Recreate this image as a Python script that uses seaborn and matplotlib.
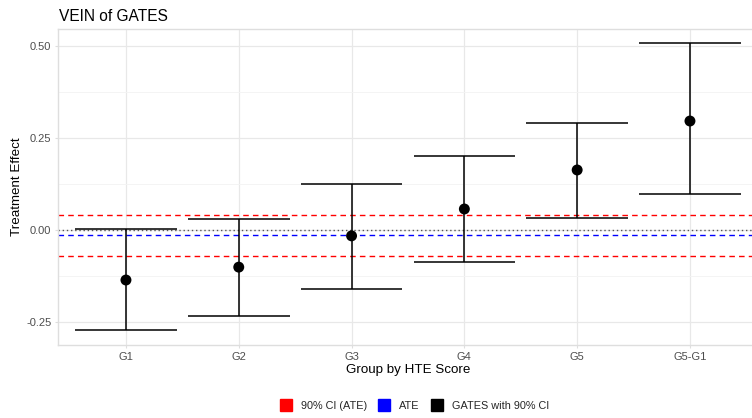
import matplotlib
matplotlib.use("Agg")
import matplotlib.pyplot as plt
from matplotlib.lines import Line2D
from matplotlib.ticker import MultipleLocator
import numpy as np
import pandas as pd
import seaborn as sns

# Group average treatment effects with 90% confidence bounds
groups = ["G1", "G2", "G3", "G4", "G5", "G5-G1"]
estimate = [-0.136, -0.101, -0.016, 0.057, 0.163, 0.296]
lower = [-0.272, -0.234, -0.160, -0.087, 0.032, 0.097]
upper = [0.003, 0.030, 0.125, 0.201, 0.291, 0.509]

# Average treatment effect and its 90% interval
ate = -0.015
ate_lower = -0.071
ate_upper = 0.041

df = pd.DataFrame({"group": groups, "estimate": estimate,
                   "lower": lower, "upper": upper})

sns.set_theme(style="white")
plt.rcParams["font.family"] = ["Liberation Sans", "DejaVu Sans"]

fig = plt.figure(figsize=(7.52, 4.18), dpi=100)
ax = fig.add_axes([0.0775, 0.1754, 0.930, 0.7552])

grid_major = "#e8e8e8"
grid_minor = "#f3f3f3"
border = "#dedede"

# reference lines: zero, ATE and its interval
ax.axhline(0, color="#555555", lw=1.0, ls=(0, (1, 2)), zorder=2)
ax.axhline(ate, color="blue", lw=1.0, ls=(0, (4, 3)), zorder=2)
ax.axhline(ate_lower, color="red", lw=1.0, ls=(0, (4, 3)), zorder=2)
ax.axhline(ate_upper, color="red", lw=1.0, ls=(0, (4, 3)), zorder=2)

# error bars with caps
pos = np.arange(len(df))
ax.vlines(pos, df["lower"], df["upper"], color="black", lw=1.1, zorder=3)
ax.hlines(df["lower"], pos - 0.45, pos + 0.45, color="black", lw=1.1, zorder=3)
ax.hlines(df["upper"], pos - 0.45, pos + 0.45, color="black", lw=1.1, zorder=3)

sns.scatterplot(data=df, x="group", y="estimate", color="black", s=62,
                edgecolor="none", ax=ax, zorder=4, legend=False)

ax.set_xlim(-0.6, len(df) - 0.4)
ax.set_ylim(-0.3117, 0.546)
ax.yaxis.set_major_locator(MultipleLocator(0.25))
ax.yaxis.set_minor_locator(MultipleLocator(0.125))
ax.set_yticks([-0.25, 0.0, 0.25, 0.50])
ax.set_yticklabels(["-0.25", "0.00", "0.25", "0.50"])

ax.grid(which="major", axis="both", color=grid_major, lw=0.9, zorder=0)
ax.grid(which="minor", axis="y", color=grid_minor, lw=0.6, zorder=0)
ax.set_axisbelow(True)
for sp in ax.spines.values():
    sp.set_visible(True)
    sp.set_color(border)
    sp.set_linewidth(1.0)

ax.tick_params(axis="both", which="major", length=2.5, width=0.8,
               color=border, labelsize=8, labelcolor="#4d4d4d", pad=2.5,
               left=True, bottom=True)
ax.tick_params(which="minor", length=0)

ax.set_xlabel("Group by HTE Score", fontsize=9.6, color="black", labelpad=2)
ax.set_ylabel("")
fig.text(17 / 752, 1 - 187 / 418, "Treatment Effect", rotation=90,
         ha="center", va="center", fontsize=9.6, color="black")

fig.text(59 / 752, 1 - 21 / 418, "VEIN of GATES", ha="left",
         va="baseline", fontsize=11.2, color="black")

handles = [
    Line2D([], [], marker="s", ls="none", color="red", markersize=8),
    Line2D([], [], marker="s", ls="none", color="blue", markersize=8),
    Line2D([], [], marker="s", ls="none", color="black", markersize=8),
]
fig.legend(handles, ["90% CI (ATE)", "ATE", "GATES with 90% CI"],
           loc="center", bbox_to_anchor=(415 / 752, 1 - 406 / 418),
           ncol=3, frameon=False, fontsize=7.8, handletextpad=0.9,
           columnspacing=1.1, handlelength=1.0)

fig.savefig("out.png", dpi=100)
